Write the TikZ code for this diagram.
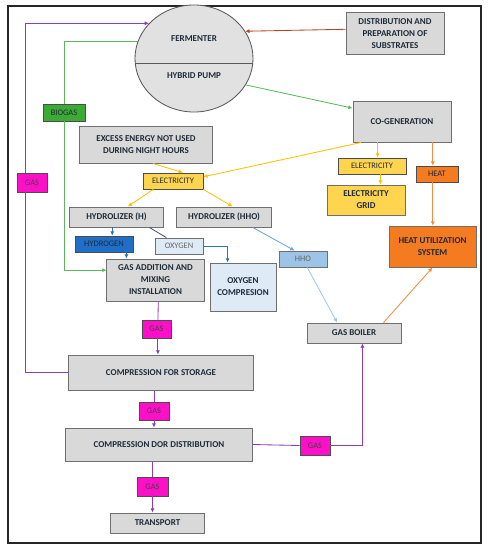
\documentclass[tikz,border=0pt]{standalone}
\usepackage{fontspec}
\setmainfont{Carlito}
\usetikzlibrary{shapes.geometric, arrows.meta, positioning}
\definecolor{boxgray}{HTML}{D9D9D9}
\definecolor{edgegray}{HTML}{6F6F6F}
\definecolor{inkdark}{HTML}{1E2A38}
\definecolor{gaspink}{HTML}{FF10C8}
\definecolor{gasline}{HTML}{8A3DB8}
\definecolor{biogreen}{HTML}{3DAA35}
\definecolor{greenline}{HTML}{5CB85C}
\definecolor{elecyellow}{HTML}{FFD550}
\definecolor{elecline}{HTML}{FFC000}
\definecolor{heatorange}{HTML}{F47B20}
\definecolor{heatline}{HTML}{F58B3C}
\definecolor{substrline}{HTML}{B5451B}
\definecolor{hydroblue}{HTML}{1F6FC9}
\definecolor{blueline}{HTML}{2E75B6}
\definecolor{slateline}{HTML}{44546A}
\definecolor{oxyblue}{HTML}{DEEBF7}
\definecolor{hhoblue}{HTML}{9DC3E6}
\definecolor{hholine}{HTML}{6AA6DE}
\definecolor{skyline}{HTML}{9CC8EE}
\tikzset{
    block/.style={rectangle, draw=edgegray, line width=0.7pt, fill=boxgray, align=center, inner sep=0pt, text=inkdark, font=\fontsize{6.4}{8.5}\selectfont\bfseries},
    tag/.style={rectangle, draw=black!70, line width=0.6pt, align=center, inner sep=0pt, text=inkdark, font=\fontsize{6}{7}\selectfont},
    gastag/.style={tag, fill=gaspink, text=black!75},
    flow/.style={line width=0.6pt, -{Latex[length=3pt, width=3pt]}}
}
\begin{document}
\begin{tikzpicture}[x=0.025cm, y=-0.025cm, line width=0.6pt]
    \useasboundingbox (0,0) rectangle (489,550);
    \draw[line width=1.1pt, black!85] (8,6) rectangle (481,543);

    % fermenter with the hybrid pump
    \node[ellipse, draw=black!65, fill=boxgray!80, minimum width=2.95cm, minimum height=2.675cm, inner sep=0pt] (ferm) at (194,58.5) {};
    \draw[black!65] (135.3,63) -- (252.7,63);
    \node[font=\fontsize{6.4}{7.5}\selectfont\bfseries, text=inkdark] (fermtxt) at (194,39) {FERMENTER};
    \node[font=\fontsize{6.4}{7.5}\selectfont\bfseries, text=inkdark] (pumptxt) at (194,76) {HYBRID PUMP};

    \node[block, minimum width=2.45cm, minimum height=1.025cm] (dist) at (395,33.5) {DISTRIBUTION AND\\PREPARATION OF\\SUBSTRATES};
    \node[block, minimum width=2.45cm, minimum height=1.025cm] (cogen) at (402,121.5) {CO-GENERATION};
    \node[tag, fill=biogreen, minimum width=1.05cm, minimum height=0.425cm] (biogas) at (64,112.5) {BIOGAS};
    \node[gastag, minimum width=0.75cm, minimum height=0.475cm] (gas1) at (32,182.5) {GAS};
    \node[block, minimum width=3.3cm, minimum height=0.925cm] (excess) at (146,144.5) {EXCESS ENERGY NOT USED\\DURING NIGHT HOURS};
    \node[tag, fill=elecyellow, minimum width=1.5cm, minimum height=0.4cm] (elec1) at (173,181) {ELECTRICITY};
    \node[tag, fill=elecyellow, minimum width=1.7cm, minimum height=0.4cm] (elec2) at (372,166) {ELECTRICITY};
    \node[block, fill=elecyellow, minimum width=1.95cm, minimum height=0.75cm] (grid) at (366,200) {ELECTRICITY\\GRID};
    \node[tag, fill=heatorange, minimum width=1.05cm, minimum height=0.4cm] (heat) at (437,174) {HEAT};
    \node[block, fill=heatorange, minimum width=2.175cm, minimum height=1.025cm] (heatsys) at (432.5,246.5) {HEAT UTILIZATION\\SYSTEM};

    \node[block, minimum width=2.325cm, minimum height=0.5cm] (hydH) at (116.5,217) {HYDROLIZER (H)};
    \node[block, minimum width=2.35cm, minimum height=0.5cm] (hydHHO) at (224,217) {HYDROLIZER (HHO)};
    \node[tag, fill=hydroblue, minimum width=1.45cm, minimum height=0.4cm] (hydrogen) at (104,244) {HYDROGEN};
    \node[tag, draw=edgegray, fill=oxyblue, text=black!60, minimum width=1.2cm, minimum height=0.4cm] (oxygen) at (179,246) {OXYGEN};
    \node[block, minimum width=2.425cm, minimum height=1.05cm] (gasadd) at (155.5,280) {GAS ADDITION AND\\MIXING\\INSTALLATION};
    \node[block, fill=oxyblue, minimum width=1.65cm, minimum height=1.2cm] (oxcomp) at (243,287) {OXYGEN\\COMPRESION};
    \node[tag, draw=edgegray, fill=hhoblue, text=black!60, minimum width=1.2cm, minimum height=0.4cm] (hho) at (303,259) {HHO};
    \node[block, minimum width=2.35cm, minimum height=0.5cm] (boiler) at (354,333) {GAS BOILER};

    \node[gastag, minimum width=0.725cm, minimum height=0.45cm] (gas2) at (156.5,329) {GAS};
    \node[block, minimum width=4.6cm, minimum height=0.875cm] (store) at (161,372.5) {COMPRESSION FOR STORAGE};
    \node[gastag, minimum width=0.75cm, minimum height=0.45cm] (gas3) at (154,411) {GAS};
    \node[block, minimum width=4.65cm, minimum height=0.825cm] (distr) at (159,444.5) {COMPRESSION DOR DISTRIBUTION};
    \node[gastag, minimum width=0.775cm, minimum height=0.475cm] (gas4) at (152.5,486.5) {GAS};
    \node[block, minimum width=2.325cm, minimum height=0.5cm] (transport) at (157.5,523) {TRANSPORT};
    \node[gastag, minimum width=0.75cm, minimum height=0.475cm] (gas5) at (315,445.5) {GAS};

    % substrates and biogas
    \draw[flow, substrline] ([yshift=3pt]dist.west) -- (ferm.28);
    \draw[flow, greenline] (ferm.-27) -- ([yshift=9.5pt]cogen.west);
    \draw[greenline] (ferm.163) -| (biogas.north);
    \draw[flow, greenline] (biogas.south) |- ([yshift=7pt]gasadd.west);
    \draw[gasline] (store.west) -| ([xshift=-5pt]gas1.south);
    \draw[flow, gasline] ([xshift=-5pt]gas1.north) |- (ferm.142.5);

    % electricity and heat
    \draw[flow, elecline] ([xshift=5pt]excess.south) -- ([xshift=7pt]elec1.north);
    \draw[flow, elecline] ([xshift=6pt]cogen.south west) -- ([yshift=3pt]elec1.east);
    \draw[flow, elecline] ([xshift=4pt]elec2.north |- cogen.south) -- ([xshift=4pt]elec2.north);
    \draw[flow, elecline] ([xshift=6pt]elec2.south) -- ([xshift=6pt]elec2.south |- grid.north);
    \draw[flow, heatline] ([xshift=-3pt]heat.north |- cogen.south) -- ([xshift=-3pt]heat.north);
    \draw[flow, heatline] ([xshift=-3pt]heat.south) -- ([xshift=-3pt]heat.south |- heatsys.north);
    \draw[flow, elecline] ([xshift=-14pt]elec1.south) -- ([xshift=8pt]hydH.north);
    \draw[flow, elecline] (elec1.south east) -- ([xshift=6pt]hydHHO.north);

    % hydrolizers
    \draw[flow, blueline] ([xshift=-3pt]hydH.south) -- ([xshift=-3pt]hydH.south |- hydrogen.north);
    \draw[flow, blueline] ([xshift=-5pt]hydrogen.south east) -- ([xshift=-5pt]hydrogen.south east |- gasadd.north);
    \draw[slateline] ([xshift=-10pt]hydH.south east) -- ([xshift=-9pt]oxygen.north);
    \draw[flow, blueline] (oxygen.east) -| ([xshift=-11pt]oxcomp.north);
    \draw[flow, hholine] ([xshift=20.5pt]hydHHO.south) -- ([xshift=-6pt]hho.north);
    \draw[flow, skyline] ([xshift=3pt]hho.south) -- ([xshift=-12pt]boiler.north);
    \draw[flow, heatline] ([xshift=21pt]boiler.north) -- (heatsys.south);

    % gas line
    \draw[gasline] ([xshift=2pt]gasadd.south) -- ([xshift=1pt]gas2.north);
    \draw[flow, gasline] ([xshift=1pt]gas2.south) -- ([xshift=1pt]gas2.south |- store.north);
    \draw[gasline] (gas3.north |- store.south) -- (gas3.north);
    \draw[flow, gasline] (gas3.south) -- (gas3.south |- distr.north);
    \draw[gasline] (gas4.north |- distr.south) -- (gas4.north);
    \draw[flow, gasline] (gas4.south) -- (gas4.south |- transport.north);
    \draw[gasline] (distr.east) -- (gas5.west);
    \draw[flow, gasline] (gas5.east) -| ([xshift=6pt]boiler.south);
\end{tikzpicture}
\end{document}
